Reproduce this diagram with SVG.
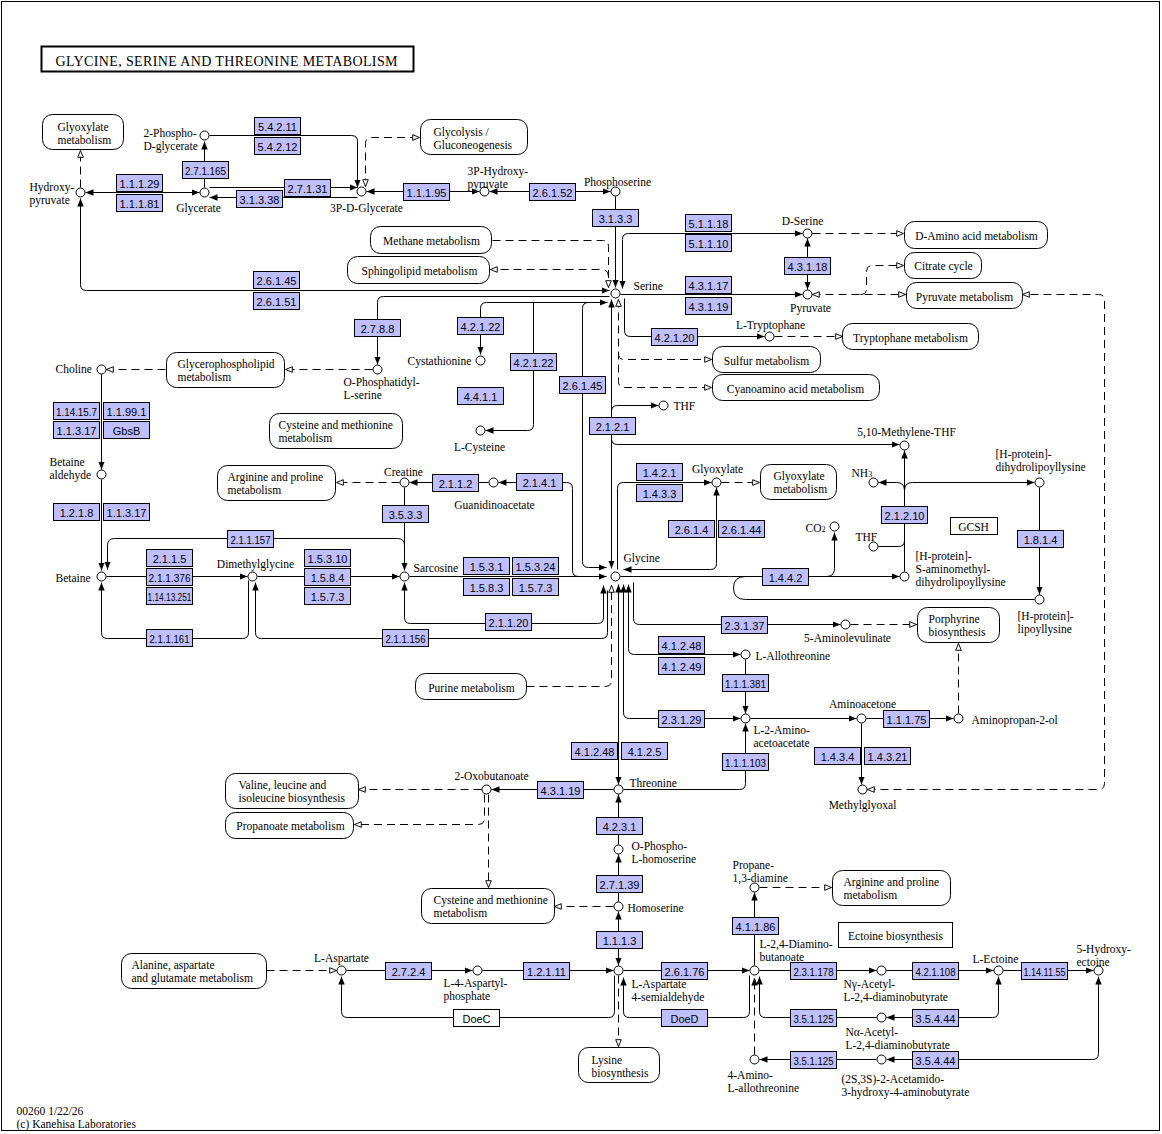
<svg xmlns="http://www.w3.org/2000/svg" width="1162" height="1134" viewBox="0 0 1162 1134">
<defs>
<style>
.bg{fill:#fff}
.c{fill:#fff;stroke:#000;stroke-width:1}
.e{fill:#bfbfff;stroke:#000;stroke-width:1}
.w{fill:#fff;stroke:#000;stroke-width:1}
.m{fill:#fff;stroke:#000;stroke-width:1}
.et{font-family:"Liberation Sans",Arial,sans-serif;font-size:11px;text-anchor:middle;fill:#000}
.t{font-family:"Liberation Serif","Times New Roman",serif;font-size:11.5px;fill:#000}
.mid{text-anchor:middle}
#connectors path{fill:none;stroke:#000;stroke-width:1}
#connectors path.d{stroke-dasharray:8 5}
</style>
<marker id="a" viewBox="0 0 10 10" refX="10" refY="5" markerWidth="8" markerHeight="8" markerUnits="userSpaceOnUse" orient="auto-start-reverse"><path d="M0,1 L10,5 L0,9z" fill="#000"/></marker>
<marker id="o" viewBox="0 0 10 10" refX="9.5" refY="5" markerWidth="8" markerHeight="8" markerUnits="userSpaceOnUse" orient="auto-start-reverse"><path d="M1,1.5 L9.5,5 L1,8.5z" fill="#fff" stroke="#000" stroke-width="1.2"/></marker>
</defs>
<rect class="bg" x="0" y="0" width="1162" height="1134"/>
<rect x="1.5" y="1.5" width="1158" height="1129" fill="none" stroke="#000" stroke-width="1"/>
<g transform="translate(0.5 0.5)">
<g id="title"><rect x="41" y="46" width="372" height="25" fill="#fff" stroke="#000" stroke-width="2"/><text x="55" y="65" style="font-family:'Liberation Serif','Times New Roman',serif;font-size:14px" textLength="342" lengthAdjust="spacing">GLYCINE, SERINE AND THREONINE METABOLISM</text></g>

<g id="connectors">
<path d="M85 192H199" marker-start="url(#a)" marker-end="url(#a)"/>
<path class="d" d="M80 187V150" marker-end="url(#o)"/>
<path d="M609 290H86Q80 290 80 284V198" marker-start="url(#a)" marker-end="url(#a)"/>
<path d="M204 187V141" marker-end="url(#a)"/>
<path d="M209 135H351Q357 135 357 141V187" marker-end="url(#a)"/>
<path d="M209 187H357" marker-end="url(#a)"/>
<path d="M357 197H209" marker-end="url(#a)"/>
<path class="d" d="M365 186V143Q365 137 371 137H419" marker-start="url(#o)" marker-end="url(#o)"/>
<path d="M366 191H479" marker-start="url(#a)" marker-end="url(#a)"/>
<path d="M489 191H610" marker-start="url(#a)" marker-end="url(#a)"/>
<path d="M615 196V287" marker-end="url(#a)"/>
<path d="M622 288V239Q622 233 628 233H802" marker-start="url(#a)" marker-end="url(#a)"/>
<path class="d" d="M492 240H602Q608 240 608 246V287" marker-end="url(#o)"/>
<path class="d" d="M608 276Q608 269 601 269H490" marker-end="url(#o)"/>
<path d="M620 294H802" marker-end="url(#a)"/>
<path d="M807 238V289" marker-start="url(#a)" marker-end="url(#a)"/>
<path class="d" d="M812 233H903" marker-end="url(#o)"/>
<path class="d" d="M812 294H905" marker-start="url(#o)" marker-end="url(#o)"/>
<path class="d" d="M860 294Q866 294 866 288V271Q866 265 872 265H903" marker-end="url(#o)"/>
<path class="d" d="M867 789H1098Q1104 789 1104 783V300Q1104 294 1098 294H1022" marker-start="url(#o)" marker-end="url(#o)"/>
<path d="M624 298V330Q624 336 630 336H764" marker-end="url(#a)"/>
<path class="d" d="M774 336H842" marker-end="url(#o)"/>
<path class="d" d="M618 299V381Q618 387 624 387H711" marker-start="url(#o)" marker-end="url(#o)"/>
<path class="d" d="M618 353Q618 359 624 359H711" marker-end="url(#o)"/>
<path d="M611 568V299" marker-start="url(#a)" marker-end="url(#a)"/>
<path d="M611 411Q611 405 617 405H658" marker-end="url(#a)"/>
<path d="M611 438Q611 444 617 444H899" marker-end="url(#a)"/>
<path d="M480 354V308Q480 302 486 302H607" marker-start="url(#a)" marker-end="url(#a)"/>
<path d="M533 302V424Q533 430 527 430H485" marker-end="url(#a)"/>
<path d="M606 567H588Q582 567 582 561V308Q582 302 588 302" marker-start="url(#a)"/>
<path d="M498 482H566Q572 482 572 488V570Q572 576 578 576" marker-start="url(#a)"/>
<path d="M488 482H409" marker-end="url(#a)"/>
<path class="d" d="M399 482H336" marker-end="url(#o)"/>
<path d="M404 487V570" marker-end="url(#a)"/>
<path d="M404 545Q404 538 397 538H114Q107 538 107 545V569" marker-end="url(#a)"/>
<path d="M101 479V570" marker-end="url(#a)"/>
<path d="M101 374V469" marker-end="url(#a)"/>
<path class="d" d="M165 369H106" marker-end="url(#o)"/>
<path class="d" d="M372 369H285" marker-end="url(#o)"/>
<path d="M609 296H383Q377 296 377 302V364" marker-end="url(#a)"/>
<path d="M106 576H247" marker-end="url(#a)"/>
<path d="M257 576H399" marker-end="url(#a)"/>
<path d="M409 576H606" marker-end="url(#a)"/>
<path d="M248 580V632Q248 638 242 638H107Q101 638 101 632V582" marker-end="url(#a)"/>
<path d="M607 590V632Q607 638 601 638H261Q255 638 255 632V582" marker-end="url(#a)"/>
<path d="M603 585V617Q603 623 597 623H410Q404 623 404 617V582" marker-start="url(#a)" marker-end="url(#a)"/>
<path class="d" d="M526 686H605Q611 686 611 680V585" marker-end="url(#o)"/>
<path d="M618 784V584" marker-start="url(#a)" marker-end="url(#a)"/>
<path d="M623 584V712Q623 718 629 718H740" marker-start="url(#a)" marker-end="url(#a)"/>
<path d="M628 584V648Q628 654 634 654H740" marker-start="url(#a)" marker-end="url(#a)"/>
<path d="M633 582V618Q633 624 639 624H840" marker-end="url(#a)"/>
<path class="d" d="M850 624H916" marker-end="url(#o)"/>
<path d="M617 569V488Q617 482 623 482H711" marker-end="url(#a)"/>
<path d="M716 487V563Q716 569 710 569H623" marker-start="url(#a)" marker-end="url(#a)"/>
<path class="d" d="M721 482H759" marker-end="url(#o)"/>
<path d="M620 576H899" marker-end="url(#a)"/>
<path d="M826 576Q834 576 834 568V532" marker-end="url(#a)"/>
<path d="M745 576Q733 576 733 587.5Q733 599 745 599H1034"/>
<path d="M904 571V450" marker-end="url(#a)"/>
<path d="M878 546H898Q904 546 904 540"/>
<path d="M904 490Q904 482 896 482H878" marker-end="url(#a)"/>
<path d="M904 490Q904 482 912 482H1034" marker-end="url(#a)"/>
<path d="M1039 487V594" marker-end="url(#a)"/>
<path d="M745 659V713" marker-end="url(#a)"/>
<path d="M623 789H739Q745 789 745 783V723" marker-end="url(#a)"/>
<path d="M750 718H856" marker-end="url(#a)"/>
<path d="M866 718H953" marker-end="url(#a)"/>
<path class="d" d="M958 713V643" marker-end="url(#o)"/>
<path d="M861 723V784" marker-end="url(#a)"/>
<path d="M613 789H491" marker-end="url(#a)"/>
<path class="d" d="M481 789H358" marker-end="url(#o)"/>
<path class="d" d="M484 794V818Q484 824 478 824H354" marker-end="url(#o)"/>
<path class="d" d="M488 794V887" marker-end="url(#o)"/>
<path d="M618 844V794" marker-end="url(#a)"/>
<path d="M618 901V854" marker-end="url(#a)"/>
<path class="d" d="M613 906H554" marker-end="url(#o)"/>
<path d="M618 965V911" marker-start="url(#a)" marker-end="url(#a)"/>
<path class="d" d="M266 970H336" marker-end="url(#o)"/>
<path d="M346 970H472" marker-end="url(#a)"/>
<path d="M482 970H613" marker-end="url(#a)"/>
<path d="M623 970H749" marker-end="url(#a)"/>
<path d="M614 975V1011Q614 1017 608 1017H347Q341 1017 341 1011V976" marker-end="url(#a)"/>
<path class="d" d="M618 975V1046" marker-end="url(#o)"/>
<path d="M749 975V1011Q749 1017 743 1017H629Q623 1017 623 1011V977" marker-end="url(#a)"/>
<path class="d" d="M754 1054V977" marker-end="url(#a)"/>
<path d="M876 1017H765Q759 1017 759 1011V976" marker-end="url(#a)"/>
<path d="M998 976V1011Q998 1017 992 1017H886" marker-start="url(#a)" marker-end="url(#a)"/>
<path d="M754 965V892" marker-end="url(#a)"/>
<path class="d" d="M759 887H831" marker-end="url(#o)"/>
<path d="M759 970H876" marker-end="url(#a)"/>
<path d="M886 970H993" marker-end="url(#a)"/>
<path d="M1003 970H1093" marker-end="url(#a)"/>
<path d="M876 1059H759" marker-end="url(#a)"/>
<path d="M1098 976V1053Q1098 1059 1092 1059H886" marker-start="url(#a)" marker-end="url(#a)"/>
</g>

<g id="maps">
<g id="m-glyoxylate1"><rect class="m" x="42" y="114" width="81" height="35" rx="10"/><text class="t" x="57" y="130">Glyoxylate<tspan x="57" dy="13">metabolism</tspan></text></g>
<g id="m-glycolysis"><rect class="m" x="420" y="119" width="107" height="35" rx="10"/><text class="t" x="433" y="135">Glycolysis /<tspan x="433" dy="13">Gluconeogenesis</tspan></text></g>
<g id="m-methane"><rect class="m" x="370" y="226" width="121" height="27" rx="10"/><text class="t mid" x="431" y="244">Methane metabolism</text></g>
<g id="m-sphingolipid"><rect class="m" x="347" y="256" width="142" height="27" rx="10"/><text class="t mid" x="419" y="274">Sphingolipid metabolism</text></g>
<g id="m-damino"><rect class="m" x="904" y="221" width="143" height="27" rx="10"/><text class="t mid" x="976" y="239">D-Amino acid metabolism</text></g>
<g id="m-citrate"><rect class="m" x="904" y="252" width="77" height="26" rx="10"/><text class="t mid" x="943" y="269">Citrate cycle</text></g>
<g id="m-pyruvate"><rect class="m" x="906" y="282" width="116" height="26" rx="10"/><text class="t mid" x="964" y="300">Pyruvate metabolism</text></g>
<g id="m-tryptophane"><rect class="m" x="842" y="323" width="136" height="26" rx="10"/><text class="t mid" x="910" y="341">Tryptophane metabolism</text></g>
<g id="m-sulfur"><rect class="m" x="712" y="346" width="108" height="26" rx="10"/><text class="t mid" x="766" y="364">Sulfur metabolism</text></g>
<g id="m-cyanoamino"><rect class="m" x="712" y="374" width="167" height="26" rx="10"/><text class="t mid" x="795" y="392">Cyanoamino acid metabolism</text></g>
<g id="m-glycerophospholipid"><rect class="m" x="166" y="352" width="118" height="35" rx="10"/><text class="t" x="177" y="367">Glycerophospholipid<tspan x="177" dy="13">metabolism</tspan></text></g>
<g id="m-cysmet1"><rect class="m" x="269" y="413" width="133" height="35" rx="10"/><text class="t" x="278" y="428">Cysteine and methionine<tspan x="278" dy="13">metabolism</tspan></text></g>
<g id="m-argpro1"><rect class="m" x="217" y="465" width="118" height="35" rx="10"/><text class="t" x="227" y="480">Arginine and proline<tspan x="227" dy="13">metabolism</tspan></text></g>
<g id="m-glyoxylate2"><rect class="m" x="760" y="464" width="76" height="35" rx="10"/><text class="t" x="773" y="479">Glyoxylate<tspan x="773" dy="13">metabolism</tspan></text></g>
<g id="m-porphyrine"><rect class="m" x="917" y="607" width="82" height="35" rx="10"/><text class="t" x="928" y="622">Porphyrine<tspan x="928" dy="13">biosynthesis</tspan></text></g>
<g id="m-purine"><rect class="m" x="415" y="673" width="111" height="26" rx="10"/><text class="t mid" x="471" y="691">Purine metabolism</text></g>
<g id="m-valine"><rect class="m" x="225" y="773" width="133" height="35" rx="10"/><text class="t" x="238" y="788">Valine, leucine and<tspan x="238" dy="13">isoleucine biosynthesis</tspan></text></g>
<g id="m-propanoate"><rect class="m" x="225" y="812" width="128" height="26" rx="10"/><text class="t mid" x="290" y="829">Propanoate metabolism</text></g>
<g id="m-cysmet2"><rect class="m" x="421" y="888" width="133" height="35" rx="10"/><text class="t" x="433" y="903">Cysteine and methionine<tspan x="433" dy="13">metabolism</tspan></text></g>
<g id="m-alanine"><rect class="m" x="121" y="953" width="145" height="35" rx="10"/><text class="t" x="131" y="968">Alanine, aspartate<tspan x="131" dy="13">and glutamate metabolism</tspan></text></g>
<g id="m-argpro2"><rect class="m" x="832" y="870" width="118" height="35" rx="10"/><text class="t" x="843" y="885">Arginine and proline<tspan x="843" dy="13">metabolism</tspan></text></g>
<g id="m-lysine"><rect class="m" x="578" y="1047" width="81" height="35" rx="10"/><text class="t" x="591" y="1063">Lysine<tspan x="591" dy="13">biosynthesis</tspan></text></g>
<g id="m-ectoine"><rect class="w" x="838" y="922" width="114" height="25"/><text class="t mid" x="895" y="939">Ectoine biosynthesis</text></g>
<g id="g-gcsh"><rect class="w" x="950" y="517" width="47" height="17"/><text class="t mid" x="973" y="530">GCSH</text></g>
</g>

<g id="enzymes">
<g id="e1"><rect class="e" x="254" y="117" width="46" height="17"/><text class="et" x="277" y="130">5.4.2.11</text></g>
<g id="e2"><rect class="e" x="254" y="137" width="46" height="17"/><text class="et" x="277" y="150">5.4.2.12</text></g>
<g id="e3"><rect class="e" x="182" y="161" width="46" height="17"/><text class="et" x="205" y="174" textLength="41" lengthAdjust="spacingAndGlyphs">2.7.1.165</text></g>
<g id="e4"><rect class="e" x="116" y="174" width="46" height="17"/><text class="et" x="139" y="187">1.1.1.29</text></g>
<g id="e5"><rect class="e" x="116" y="194" width="46" height="17"/><text class="et" x="139" y="207">1.1.1.81</text></g>
<g id="e6"><rect class="e" x="284" y="179" width="46" height="17"/><text class="et" x="307" y="192">2.7.1.31</text></g>
<g id="e7"><rect class="e" x="236" y="190" width="46" height="17"/><text class="et" x="259" y="203">3.1.3.38</text></g>
<g id="e8"><rect class="e" x="403" y="183" width="46" height="17"/><text class="et" x="426" y="196">1.1.1.95</text></g>
<g id="e9"><rect class="e" x="529" y="183" width="46" height="17"/><text class="et" x="552" y="196">2.6.1.52</text></g>
<g id="e10"><rect class="e" x="592" y="209" width="46" height="17"/><text class="et" x="615" y="222">3.1.3.3</text></g>
<g id="e11"><rect class="e" x="685" y="214" width="46" height="17"/><text class="et" x="708" y="227">5.1.1.18</text></g>
<g id="e12"><rect class="e" x="685" y="234" width="46" height="17"/><text class="et" x="708" y="247">5.1.1.10</text></g>
<g id="e13"><rect class="e" x="685" y="276" width="46" height="17"/><text class="et" x="708" y="289">4.3.1.17</text></g>
<g id="e14"><rect class="e" x="685" y="297" width="46" height="17"/><text class="et" x="708" y="310">4.3.1.19</text></g>
<g id="e15"><rect class="e" x="784" y="257" width="46" height="17"/><text class="et" x="807" y="270">4.3.1.18</text></g>
<g id="e16"><rect class="e" x="651" y="328" width="46" height="17"/><text class="et" x="674" y="341">4.2.1.20</text></g>
<g id="e17"><rect class="e" x="253" y="271" width="46" height="17"/><text class="et" x="276" y="284">2.6.1.45</text></g>
<g id="e18"><rect class="e" x="253" y="292" width="46" height="17"/><text class="et" x="276" y="305">2.6.1.51</text></g>
<g id="e19"><rect class="e" x="354" y="319" width="46" height="17"/><text class="et" x="377" y="332">2.7.8.8</text></g>
<g id="e20"><rect class="e" x="457" y="317" width="46" height="17"/><text class="et" x="480" y="330">4.2.1.22</text></g>
<g id="e21"><rect class="e" x="510" y="353" width="46" height="17"/><text class="et" x="533" y="366">4.2.1.22</text></g>
<g id="e22"><rect class="e" x="457" y="387" width="46" height="17"/><text class="et" x="480" y="400">4.4.1.1</text></g>
<g id="e23"><rect class="e" x="559" y="376" width="46" height="17"/><text class="et" x="582" y="389">2.6.1.45</text></g>
<g id="e24"><rect class="e" x="589" y="417" width="46" height="17"/><text class="et" x="612" y="430">2.1.2.1</text></g>
<g id="e25"><rect class="e" x="53" y="402" width="46" height="17"/><text class="et" x="76" y="415" textLength="41" lengthAdjust="spacingAndGlyphs">1.14.15.7</text></g>
<g id="e26"><rect class="e" x="103" y="402" width="46" height="17"/><text class="et" x="126" y="415">1.1.99.1</text></g>
<g id="e27"><rect class="e" x="53" y="421" width="46" height="17"/><text class="et" x="76" y="434">1.1.3.17</text></g>
<g id="e28"><rect class="e" x="103" y="421" width="46" height="17"/><text class="et" x="126" y="434">GbsB</text></g>
<g id="e29"><rect class="e" x="53" y="503" width="46" height="17"/><text class="et" x="76" y="516">1.2.1.8</text></g>
<g id="e30"><rect class="e" x="103" y="503" width="46" height="17"/><text class="et" x="126" y="516">1.1.3.17</text></g>
<g id="e31"><rect class="e" x="227" y="530" width="46" height="17"/><text class="et" x="250" y="543" textLength="40" lengthAdjust="spacingAndGlyphs">2.1.1.157</text></g>
<g id="e32"><rect class="e" x="146" y="549" width="46" height="17"/><text class="et" x="169" y="562">2.1.1.5</text></g>
<g id="e33"><rect class="e" x="146" y="568" width="46" height="17"/><text class="et" x="169" y="581" textLength="42" lengthAdjust="spacingAndGlyphs">2.1.1.376</text></g>
<g id="e34"><rect class="e" x="146" y="587" width="46" height="17"/><text class="et" x="169" y="600" textLength="44" lengthAdjust="spacingAndGlyphs">1.14.13.251</text></g>
<g id="e35"><rect class="e" x="304" y="549" width="46" height="17"/><text class="et" x="327" y="562">1.5.3.10</text></g>
<g id="e36"><rect class="e" x="304" y="568" width="46" height="17"/><text class="et" x="327" y="581">1.5.8.4</text></g>
<g id="e37"><rect class="e" x="304" y="587" width="46" height="17"/><text class="et" x="327" y="600">1.5.7.3</text></g>
<g id="e38"><rect class="e" x="146" y="629" width="46" height="17"/><text class="et" x="169" y="642" textLength="40" lengthAdjust="spacingAndGlyphs">2.1.1.161</text></g>
<g id="e39"><rect class="e" x="382" y="629" width="46" height="17"/><text class="et" x="405" y="642" textLength="40" lengthAdjust="spacingAndGlyphs">2.1.1.156</text></g>
<g id="e40"><rect class="e" x="432" y="474" width="46" height="17"/><text class="et" x="455" y="487">2.1.1.2</text></g>
<g id="e41"><rect class="e" x="516" y="473" width="46" height="17"/><text class="et" x="539" y="486">2.1.4.1</text></g>
<g id="e42"><rect class="e" x="382" y="505" width="46" height="17"/><text class="et" x="405" y="518">3.5.3.3</text></g>
<g id="e43"><rect class="e" x="463" y="557" width="46" height="17"/><text class="et" x="486" y="570">1.5.3.1</text></g>
<g id="e44"><rect class="e" x="512" y="557" width="46" height="17"/><text class="et" x="535" y="570">1.5.3.24</text></g>
<g id="e45"><rect class="e" x="463" y="578" width="46" height="17"/><text class="et" x="486" y="591">1.5.8.3</text></g>
<g id="e46"><rect class="e" x="512" y="578" width="46" height="17"/><text class="et" x="535" y="591">1.5.7.3</text></g>
<g id="e47"><rect class="e" x="485" y="613" width="46" height="17"/><text class="et" x="508" y="626">2.1.1.20</text></g>
<g id="e48"><rect class="e" x="636" y="463" width="46" height="17"/><text class="et" x="659" y="476">1.4.2.1</text></g>
<g id="e49"><rect class="e" x="636" y="484" width="46" height="17"/><text class="et" x="659" y="497">1.4.3.3</text></g>
<g id="e50"><rect class="e" x="668" y="520" width="46" height="17"/><text class="et" x="691" y="533">2.6.1.4</text></g>
<g id="e51"><rect class="e" x="718" y="520" width="46" height="17"/><text class="et" x="741" y="533">2.6.1.44</text></g>
<g id="e52"><rect class="e" x="762" y="568" width="46" height="17"/><text class="et" x="785" y="581">1.4.4.2</text></g>
<g id="e53"><rect class="e" x="881" y="506" width="46" height="17"/><text class="et" x="904" y="519">2.1.2.10</text></g>
<g id="e54"><rect class="e" x="1017" y="530" width="46" height="17"/><text class="et" x="1040" y="543">1.8.1.4</text></g>
<g id="e55"><rect class="e" x="721" y="616" width="46" height="17"/><text class="et" x="744" y="629">2.3.1.37</text></g>
<g id="e56"><rect class="e" x="658" y="636" width="46" height="17"/><text class="et" x="681" y="649">4.1.2.48</text></g>
<g id="e57"><rect class="e" x="658" y="657" width="46" height="17"/><text class="et" x="681" y="670">4.1.2.49</text></g>
<g id="e58"><rect class="e" x="722" y="674" width="46" height="17"/><text class="et" x="745" y="687" textLength="41" lengthAdjust="spacingAndGlyphs">1.1.1.381</text></g>
<g id="e59"><rect class="e" x="658" y="710" width="46" height="17"/><text class="et" x="681" y="723">2.3.1.29</text></g>
<g id="e60"><rect class="e" x="722" y="753" width="46" height="17"/><text class="et" x="745" y="766" textLength="41" lengthAdjust="spacingAndGlyphs">1.1.1.103</text></g>
<g id="e61"><rect class="e" x="571" y="742" width="46" height="17"/><text class="et" x="594" y="755">4.1.2.48</text></g>
<g id="e62"><rect class="e" x="621" y="742" width="46" height="17"/><text class="et" x="644" y="755">4.1.2.5</text></g>
<g id="e63"><rect class="e" x="537" y="781" width="46" height="17"/><text class="et" x="560" y="794">4.3.1.19</text></g>
<g id="e64"><rect class="e" x="883" y="710" width="46" height="17"/><text class="et" x="906" y="723">1.1.1.75</text></g>
<g id="e65"><rect class="e" x="814" y="747" width="46" height="17"/><text class="et" x="837" y="760">1.4.3.4</text></g>
<g id="e66"><rect class="e" x="864" y="747" width="46" height="17"/><text class="et" x="887" y="760">1.4.3.21</text></g>
<g id="e67"><rect class="e" x="596" y="817" width="46" height="17"/><text class="et" x="619" y="830">4.2.3.1</text></g>
<g id="e68"><rect class="e" x="596" y="875" width="46" height="17"/><text class="et" x="619" y="888">2.7.1.39</text></g>
<g id="e69"><rect class="e" x="596" y="931" width="46" height="17"/><text class="et" x="619" y="944">1.1.1.3</text></g>
<g id="e70"><rect class="e" x="523" y="962" width="46" height="17"/><text class="et" x="546" y="975">1.2.1.11</text></g>
<g id="e71"><rect class="e" x="661" y="962" width="46" height="17"/><text class="et" x="684" y="975">2.6.1.76</text></g>
<g id="e72"><rect class="e" x="661" y="1009" width="46" height="17"/><text class="et" x="684" y="1022">DoeD</text></g>
<g id="e73"><rect class="e" x="732" y="917" width="46" height="17"/><text class="et" x="755" y="930">4.1.1.86</text></g>
<g id="e74"><rect class="e" x="790" y="962" width="46" height="17"/><text class="et" x="813" y="975" textLength="40" lengthAdjust="spacingAndGlyphs">2.3.1.178</text></g>
<g id="e75"><rect class="e" x="912" y="962" width="46" height="17"/><text class="et" x="935" y="975" textLength="40" lengthAdjust="spacingAndGlyphs">4.2.1.108</text></g>
<g id="e76"><rect class="e" x="1021" y="962" width="46" height="17"/><text class="et" x="1044" y="975" textLength="42" lengthAdjust="spacingAndGlyphs">1.14.11.55</text></g>
<g id="e77"><rect class="e" x="790" y="1009" width="46" height="17"/><text class="et" x="813" y="1022" textLength="40" lengthAdjust="spacingAndGlyphs">3.5.1.125</text></g>
<g id="e78"><rect class="e" x="912" y="1009" width="46" height="17"/><text class="et" x="935" y="1022">3.5.4.44</text></g>
<g id="e79"><rect class="e" x="790" y="1051" width="46" height="17"/><text class="et" x="813" y="1064" textLength="40" lengthAdjust="spacingAndGlyphs">3.5.1.125</text></g>
<g id="e80"><rect class="e" x="912" y="1051" width="46" height="17"/><text class="et" x="935" y="1064">3.5.4.44</text></g>
<g id="e81"><rect class="e" x="385" y="962" width="46" height="17"/><text class="et" x="408" y="975">2.7.2.4</text></g>
<g id="e82"><rect class="w" x="453" y="1009" width="46" height="17"/><text class="et" x="476" y="1022">DoeC</text></g>
</g>

<g id="compounds">
<g id="hydroxypyruvate"><circle class="c" cx="80" cy="192" r="4.5"/><text class="t" x="29" y="190">Hydroxy-<tspan x="29" dy="13">pyruvate</tspan></text></g>
<g id="glycerate"><circle class="c" cx="204" cy="192" r="4.5"/><text class="t mid" x="198" y="211">Glycerate</text></g>
<g id="phosphoglycerate2"><circle class="c" cx="204" cy="135" r="4.5"/><text class="t" x="143" y="136">2-Phospho-<tspan x="143" dy="13">D-glycerate</tspan></text></g>
<g id="phosphoglycerate3"><circle class="c" cx="361" cy="191" r="4.5"/><text class="t mid" x="366" y="211">3P-D-Glycerate</text></g>
<g id="phosphohydroxypyruvate"><circle class="c" cx="484" cy="191" r="4.5"/><text class="t" x="467" y="174">3P-Hydroxy-<tspan x="467" dy="13">pyruvate</tspan></text></g>
<g id="phosphoserine"><circle class="c" cx="615" cy="191" r="4.5"/><text class="t mid" x="617" y="185">Phosphoserine</text></g>
<g id="serine"><circle class="c" cx="615" cy="293" r="4.5"/><text class="t" x="633" y="289">Serine</text></g>
<g id="dserine"><circle class="c" cx="807" cy="233" r="4.5"/><text class="t mid" x="802" y="224">D-Serine</text></g>
<g id="pyruvate"><circle class="c" cx="807" cy="294" r="4.5"/><text class="t mid" x="810" y="311">Pyruvate</text></g>
<g id="tryptophane"><circle class="c" cx="769" cy="336" r="4.5"/><text class="t mid" x="770" y="328">L-Tryptophane</text></g>
<g id="phosphatidylserine"><circle class="c" cx="377" cy="369" r="4.5"/><text class="t" x="343" y="385">O-Phosphatidyl-<tspan x="343" dy="13">L-serine</tspan></text></g>
<g id="cystathionine"><circle class="c" cx="480" cy="360" r="4.5"/><text class="t" x="407" y="364">Cystathionine</text></g>
<g id="cysteine"><circle class="c" cx="480" cy="430" r="4.5"/><text class="t mid" x="479" y="450">L-Cysteine</text></g>
<g id="thf1"><circle class="c" cx="663" cy="405" r="4.5"/><text class="t" x="673" y="409">THF</text></g>
<g id="methylenethf"><circle class="c" cx="904" cy="445" r="4.5"/><text class="t mid" x="906" y="435">5,10-Methylene-THF</text></g>
<g id="nh3"><circle class="c" cx="873" cy="482" r="4.5"/><text class="t" x="851" y="476">NH<tspan font-size="8">3</tspan></text></g>
<g id="dihydrolipoyllysine"><circle class="c" cx="1039" cy="482" r="4.5"/><text class="t" x="995" y="457">[H-protein]-<tspan x="995" dy="13">dihydrolipoyllysine</tspan></text></g>
<g id="co2"><circle class="c" cx="834" cy="526" r="4.5"/><text class="t" x="805" y="531">CO<tspan font-size="8">2</tspan></text></g>
<g id="thf2"><circle class="c" cx="873" cy="546" r="4.5"/><text class="t" x="855" y="540">THF</text></g>
<g id="aminomethyl"><circle class="c" cx="904" cy="576" r="4.5"/><text class="t" x="915" y="559">[H-protein]-<tspan x="915" dy="13">S-aminomethyl-</tspan><tspan x="915" dy="13">dihydrolipoyllysine</tspan></text></g>
<g id="lipoyllysine"><circle class="c" cx="1039" cy="599" r="4.5"/><text class="t" x="1017" y="619">[H-protein]-<tspan x="1017" dy="13">lipoyllysine</tspan></text></g>
<g id="choline"><circle class="c" cx="101" cy="369" r="4.5"/><text class="t" x="55" y="372">Choline</text></g>
<g id="betainealdehyde"><circle class="c" cx="101" cy="474" r="4.5"/><text class="t" x="49" y="465">Betaine<tspan x="49" dy="13">aldehyde</tspan></text></g>
<g id="betaine"><circle class="c" cx="101" cy="576" r="4.5"/><text class="t" x="55" y="581">Betaine</text></g>
<g id="dimethylglycine"><circle class="c" cx="252" cy="576" r="4.5"/><text class="t mid" x="255" y="567">Dimethylglycine</text></g>
<g id="creatine"><circle class="c" cx="404" cy="482" r="4.5"/><text class="t mid" x="403" y="475">Creatine</text></g>
<g id="guanidinoacetate"><circle class="c" cx="493" cy="482" r="4.5"/><text class="t mid" x="494" y="508">Guanidinoacetate</text></g>
<g id="sarcosine"><circle class="c" cx="404" cy="576" r="4.5"/><text class="t" x="413" y="571">Sarcosine</text></g>
<g id="glycine"><circle class="c" cx="615" cy="576" r="4.5"/><text class="t" x="623" y="561">Glycine</text></g>
<g id="glyoxylate"><circle class="c" cx="716" cy="482" r="4.5"/><text class="t mid" x="717" y="472">Glyoxylate</text></g>
<g id="aminolevulinate"><circle class="c" cx="845" cy="624" r="4.5"/><text class="t mid" x="847" y="641">5-Aminolevulinate</text></g>
<g id="allothreonine"><circle class="c" cx="745" cy="654" r="4.5"/><text class="t" x="755" y="659">L-Allothreonine</text></g>
<g id="aminoacetoacetate"><circle class="c" cx="745" cy="718" r="4.5"/><text class="t" x="753" y="733">L-2-Amino-<tspan x="753" dy="13">acetoacetate</tspan></text></g>
<g id="aminoacetone"><circle class="c" cx="861" cy="718" r="4.5"/><text class="t mid" x="862" y="707">Aminoacetone</text></g>
<g id="aminopropanol"><circle class="c" cx="958" cy="718" r="4.5"/><text class="t" x="971" y="723">Aminopropan-2-ol</text></g>
<g id="methylglyoxal"><circle class="c" cx="862" cy="789" r="4.5"/><text class="t mid" x="862" y="808">Methylglyoxal</text></g>
<g id="threonine"><circle class="c" cx="618" cy="789" r="4.5"/><text class="t" x="629" y="786">Threonine</text></g>
<g id="oxobutanoate"><circle class="c" cx="486" cy="789" r="4.5"/><text class="t mid" x="491" y="779">2-Oxobutanoate</text></g>
<g id="phosphohomoserine"><circle class="c" cx="618" cy="849" r="4.5"/><text class="t" x="631" y="849">O-Phospho-<tspan x="631" dy="13">L-homoserine</tspan></text></g>
<g id="homoserine"><circle class="c" cx="618" cy="906" r="4.5"/><text class="t" x="627" y="911">Homoserine</text></g>
<g id="aspartatesemialdehyde"><circle class="c" cx="618" cy="970" r="4.5"/><text class="t" x="631" y="987">L-Aspartate<tspan x="631" dy="13">4-semialdehyde</tspan></text></g>
<g id="aspartate"><circle class="c" cx="341" cy="970" r="4.5"/><text class="t mid" x="341" y="961">L-Aspartate</text></g>
<g id="aspartylphosphate"><circle class="c" cx="477" cy="970" r="4.5"/><text class="t" x="443" y="986">L-4-Aspartyl-<tspan x="443" dy="13">phosphate</tspan></text></g>
<g id="propanediamine"><circle class="c" cx="754" cy="887" r="4.5"/><text class="t" x="732" y="868">Propane-<tspan x="732" dy="13">1,3-diamine</tspan></text></g>
<g id="diaminobutanoate"><circle class="c" cx="754" cy="970" r="4.5"/><text class="t" x="759" y="947">L-2,4-Diamino-<tspan x="759" dy="13">butanoate</tspan></text></g>
<g id="ngacetyl"><circle class="c" cx="881" cy="970" r="4.5"/><text class="t" x="843" y="987">Nγ-Acetyl-<tspan x="843" dy="13">L-2,4-diaminobutyrate</tspan></text></g>
<g id="ectoine"><circle class="c" cx="998" cy="970" r="4.5"/><text class="t mid" x="995" y="962">L-Ectoine</text></g>
<g id="hydroxyectoine"><circle class="c" cx="1098" cy="970" r="4.5"/><text class="t" x="1076" y="952">5-Hydroxy-<tspan x="1076" dy="13">ectoine</tspan></text></g>
<g id="naacetyl"><circle class="c" cx="881" cy="1017" r="4.5"/><text class="t" x="845" y="1035">Nα-Acetyl-<tspan x="845" dy="13">L-2,4-diaminobutyrate</tspan></text></g>
<g id="aminoallothreonine"><circle class="c" cx="754" cy="1059" r="4.5"/><text class="t" x="727" y="1078">4-Amino-<tspan x="727" dy="13">L-allothreonine</tspan></text></g>
<g id="acetamido"><circle class="c" cx="881" cy="1059" r="4.5"/><text class="t" x="841" y="1082">(2S,3S)-2-Acetamido-<tspan x="841" dy="13">3-hydroxy-4-aminobutyrate</tspan></text></g>
</g>

<g id="footer"><text class="t" x="16" y="1114">00260 1/22/26<tspan x="16" dy="13">(c) Kanehisa Laboratories</tspan></text></g>
</g>
</svg>
